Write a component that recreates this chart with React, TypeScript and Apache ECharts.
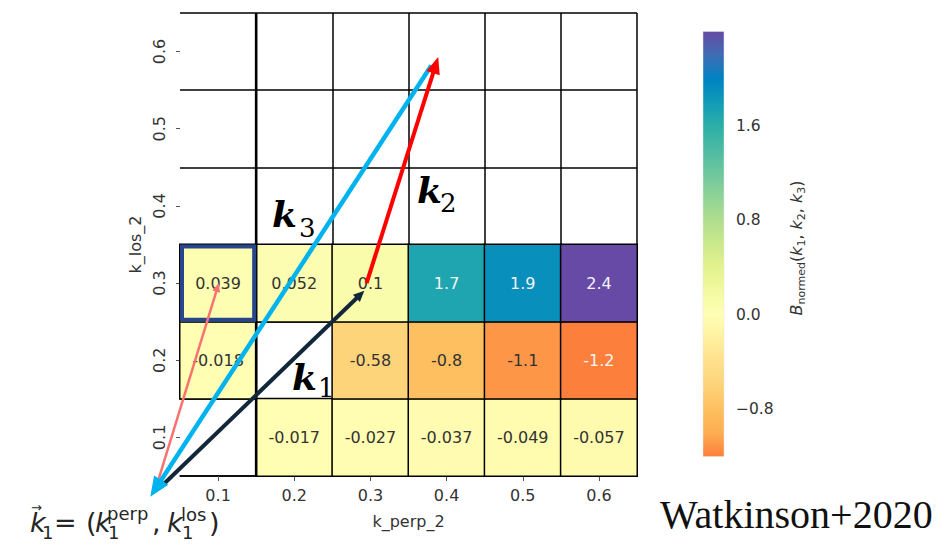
import React, { useEffect, useRef } from 'react';
import * as echarts from 'echarts';

// ---------- data ----------
const kPerpCategories = ['0.1', '0.2', '0.3', '0.4', '0.5', '0.6'];
const kLosCategories = ['0.1', '0.2', '0.3', '0.4', '0.5', '0.6'];

// B_normed values per k_los row (index = k_perp column); null = empty cell
const rowLos01 = [null, -0.017, -0.027, -0.037, -0.049, -0.057];
const rowLos02 = [-0.018, null, -0.58, -0.8, -1.1, -1.2];
const rowLos03 = [0.039, 0.052, 0.1, 1.7, 1.9, 2.4];
const valueRows = [rowLos01, rowLos02, rowLos03];

const colorMin = -1.2;
const colorMax = 2.4;
const colorbarTicks = [-0.8, 0, 0.8, 1.6];
// evenly spaced from colorMin to colorMax (step 0.2)
const colorStops = [
  '#fd7f3c', '#fdae52', '#fdbf5f', '#fed379', '#fee08a', '#fff09e', '#ffffb5',
  '#f3f9a0', '#e3f28e', '#cbe98c', '#b0de8e', '#8fd396', '#6dc79e', '#4cbba3',
  '#2caea8', '#119bb7', '#0083c2', '#3e6db4', '#664aa6',
];

// arrows in (k_perp, k_los) coordinates
const arrowStart = [[0.017, 0.030], [0.025, 0.036], [0.380, 0.582], [0.295, 0.300]];
const arrowEnd = [[0.101, 0.300], [0.292, 0.290], [0.011, 0.023], [0.389, 0.593]];
const arrowColors = ['#f87272', '#13273a', '#00b3ef', '#ff0000'];
const arrowWidths = [2.5, 4, 4.5, 4];
const arrowHeadLen = [9, 11, 20, 17];
const arrowHeadWid = [8, 10, 17, 14];

// k labels (left / baseline of "k")
const kLabelSubs = ['3', '2', '1'];
const kLabelAnchors = [[0.1709, 0.3727], [0.3612, 0.4038], [0.1971, 0.1615]];
const kLabelSubOffsets = [[27, 10], [23, 9], [26, 7]];

// highlighted cell (k_perp index, k_los index)
const highlightCell = [0, 2];
const heavyBoundary = 0.15;

const FONT = '"DejaVu Sans", sans-serif';
const TXT = '#333';

export default function App() {
  const ref = useRef<HTMLDivElement>(null);

  useEffect(() => {
    if (!ref.current) return;
    const chart = echarts.init(ref.current, null, { renderer: 'svg' });

    const heatData: any[] = [];
    valueRows.forEach((row, yi) => {
      row.forEach((v, xi) => {
        if (v === null) return;
        const white = v >= 1.2 || v <= -1.15;
        heatData.push({ value: [xi, yi, v], label: { color: white ? '#f4f4f4' : TXT } });
      });
    });

    const sub = (t: string, x: number, y: number, size: number, italic = false) => ({
      type: 'text',
      x,
      y,
      style: {
        text: t,
        font: `${italic ? 'italic ' : ''}${size}px "DejaVu Sans"`,
        fill: '#262626',
        verticalAlign: 'middle',
        textAlign: 'left',
      },
    });

    const option: any = {
      animation: false,
      backgroundColor: '#fff',
      grid: [
        { left: 180, top: 13, width: 457, height: 463, containLabel: false },
        { left: 703, top: 31.5, width: 21, height: 425, containLabel: false },
      ],
      xAxis: [
        {
          type: 'category', gridIndex: 0, data: kPerpCategories, position: 'bottom',
          name: 'k_perp_2', nameLocation: 'middle', nameGap: 37,
          nameTextStyle: { fontSize: 16, color: TXT, fontFamily: FONT },
          axisLine: { show: true, lineStyle: { color: '#000', width: 1.5 } },
          axisTick: { show: true, alignWithLabel: true, length: 5, lineStyle: { color: '#555' } },
          axisLabel: { fontSize: 16, color: TXT, margin: 11, fontFamily: FONT },
          splitLine: { show: true, showMinLine: false, lineStyle: { color: '#000', width: 1.5 } },
        },
        { type: 'value', gridIndex: 0, min: 0.05, max: 0.65, show: false, position: 'top' },
        { type: 'value', gridIndex: 1, min: 0, max: 1, show: false },
      ],
      yAxis: [
        {
          type: 'category', gridIndex: 0, data: kLosCategories,
          name: 'k_los_2', nameLocation: 'middle', nameGap: 37, nameRotate: 90,
          nameTextStyle: { fontSize: 16, color: TXT, fontFamily: FONT },
          axisLine: { show: false },
          axisTick: { show: true, alignWithLabel: true, length: 4, lineStyle: { color: '#555' } },
          axisLabel: { fontSize: 16, color: TXT, margin: 13, rotate: 90, fontFamily: FONT },
          splitLine: { show: true, lineStyle: { color: '#000', width: 1.5 } },
        },
        { type: 'value', gridIndex: 0, min: 0.05, max: 0.65, show: false, position: 'right' },
        {
          type: 'value', gridIndex: 1, min: colorMin, max: colorMax, position: 'right',
          axisLine: { show: false },
          axisTick: { show: true, customValues: colorbarTicks, length: 5, lineStyle: { color: '#444' } },
          axisLabel: {
            show: true, customValues: colorbarTicks, fontSize: 15.5, color: TXT, margin: 12, fontFamily: FONT,
            formatter: (v: number) => (v < 0 ? '\u2212' + Math.abs(v).toFixed(1) : v.toFixed(1)),
          },
          splitLine: { show: false },
        },
      ],
      visualMap: {
        type: 'continuous', show: false, min: colorMin, max: colorMax,
        dimension: 2, seriesIndex: 0, inRange: { color: colorStops },
      },
      series: [
        {
          type: 'heatmap', xAxisIndex: 0, yAxisIndex: 0, data: heatData,
          itemStyle: { borderColor: '#000', borderWidth: 1.5 },
          label: {
            show: true, fontSize: 16, fontFamily: FONT,
            formatter: (p: any) => String(p.value[2]),
          },
          emphasis: { disabled: true },
        },
        {
          // heavy boundary + highlight box
          type: 'custom', xAxisIndex: 1, yAxisIndex: 1, z: 4, silent: true,
          data: [[highlightCell[0], highlightCell[1]]],
          renderItem: (params: any, api: any) => {
            const cx = 0.05 + 0.1 * api.value(0);
            const cy = 0.05 + 0.1 * api.value(1);
            const a = api.coord([cx, cy + 0.1]);
            const b = api.coord([cx + 0.1, cy]);
            const l0 = api.coord([heavyBoundary, 0.05]);
            const l1 = api.coord([heavyBoundary, 0.65]);
            const inset = 2;
            return {
              type: 'group',
              children: [
                { type: 'line', shape: { x1: l0[0], y1: l0[1], x2: l1[0], y2: l1[1] }, style: { stroke: '#000', lineWidth: 2.6 } },
                {
                  type: 'rect',
                  shape: { x: a[0] + inset, y: a[1] + inset, width: b[0] - a[0] - 2 * inset, height: b[1] - a[1] - 2 * inset },
                  style: { fill: 'none', stroke: '#27478a', lineWidth: 4 },
                },
              ],
            };
          },
        },
        {
          // wavevector arrows
          type: 'custom', xAxisIndex: 1, yAxisIndex: 1, z: 5, silent: true, clip: false,
          data: arrowStart.map((s, i) => [s[0], s[1], arrowEnd[i][0], arrowEnd[i][1]]),
          encode: { x: [0, 2], y: [1, 3] },
          renderItem: (params: any, api: any) => {
            const i = params.dataIndex;
            const p0 = api.coord([api.value(0), api.value(1)]);
            const p1 = api.coord([api.value(2), api.value(3)]);
            const dx = p1[0] - p0[0];
            const dy = p1[1] - p0[1];
            const len = Math.hypot(dx, dy);
            const ux = dx / len;
            const uy = dy / len;
            const hl = arrowHeadLen[i];
            const hw = arrowHeadWid[i];
            const bx = p1[0] - ux * hl;
            const by = p1[1] - uy * hl;
            const nx = -uy;
            const ny = ux;
            return {
              type: 'group',
              children: [
                {
                  type: 'line',
                  shape: { x1: p0[0], y1: p0[1], x2: bx + ux * 2, y2: by + uy * 2 },
                  style: { stroke: arrowColors[i], lineWidth: arrowWidths[i] },
                },
                {
                  type: 'polygon',
                  shape: { points: [[p1[0], p1[1]], [bx + (nx * hw) / 2, by + (ny * hw) / 2], [bx - (nx * hw) / 2, by - (ny * hw) / 2]] },
                  style: { fill: arrowColors[i] },
                },
              ],
            };
          },
        },
        {
          // k labels
          type: 'custom', xAxisIndex: 1, yAxisIndex: 1, z: 6, silent: true, clip: false,
          data: kLabelAnchors,
          renderItem: (params: any, api: any) => {
            const i = params.dataIndex;
            const p = api.coord([api.value(0), api.value(1)]);
            const kSize = 36;
            const sSize = 26;
            const off = kLabelSubOffsets[i];
            return {
              type: 'group',
              children: [
                {
                  type: 'text', x: p[0], y: p[1] - 0.35 * kSize,
                  style: { text: 'k', font: `bold italic ${kSize}px "DejaVu Serif"`, fill: '#000', verticalAlign: 'middle' },
                },
                {
                  type: 'text', x: p[0] + off[0], y: p[1] + off[1] - 0.35 * sSize,
                  style: { text: kLabelSubs[i], font: `${sSize}px "DejaVu Serif"`, fill: '#000', verticalAlign: 'middle' },
                },
              ],
            };
          },
        },
        {
          // colorbar
          type: 'custom', xAxisIndex: 2, yAxisIndex: 2, silent: true,
          data: [[0, colorMin, 1, colorMax]],
          encode: { x: [0, 2], y: [1, 3] },
          renderItem: (params: any, api: any) => {
            const a = api.coord([api.value(0), api.value(3)]);
            const b = api.coord([api.value(2), api.value(1)]);
            const n = colorStops.length;
            const stops = colorStops.map((c, k) => ({ offset: 1 - k / (n - 1), color: c })).reverse();
            return {
              type: 'rect',
              shape: { x: a[0], y: a[1], width: b[0] - a[0], height: b[1] - a[1] },
              style: { fill: new echarts.graphic.LinearGradient(0, 0, 0, 1, stops), stroke: '#e4e4e4', lineWidth: 0.5 },
            };
          },
        },
      ],
      graphic: [
        {
          type: 'text', x: 796, y: 248, rotation: Math.PI / 2,
          style: {
            text: '{i|B}{s|normed}{n|(}{i|k}{s|1}{n|, }{i|k}{s|2}{n|, }{i|k}{s|3}{n|)}',
            textAlign: 'center', verticalAlign: 'middle', fill: TXT,
            rich: {
              i: { fontFamily: 'DejaVu Sans', fontStyle: 'italic', fontSize: 16, lineHeight: 21, fill: TXT },
              n: { fontFamily: 'DejaVu Sans', fontSize: 16, lineHeight: 21, fill: TXT },
              s: { fontFamily: 'DejaVu Sans', fontSize: 11, lineHeight: 11, verticalAlign: 'bottom', fill: TXT },
            },
          },
        },
        // k_1 vector formula
        sub('k', 30, 522, 27, true),
        sub('\u2192', 31, 507, 13),
        sub('1', 42, 532, 18),
        sub('=', 54, 522, 27),
        sub('(', 86, 522, 27),
        sub('k', 95, 522, 27, true),
        sub('perp', 107, 513, 18),
        sub('1', 108, 532, 18),
        sub(',', 152, 522, 27),
        sub('k', 167, 522, 27, true),
        sub('los', 181, 514, 18),
        sub('1', 182, 532, 18),
        sub(')', 209, 522, 27),
        {
          type: 'text', x: 660, y: 514,
          style: { text: 'Watkinson+2020', font: '40px "Liberation Serif"', fill: '#111', verticalAlign: 'middle' },
        },
      ],
    };

    chart.setOption(option);
    return () => chart.dispose();
  }, []);

  return (
    <div
      ref={ref}
      style={{ position: 'fixed', left: 0, top: 0, width: 948, height: 548, background: '#fff' }}
    />
  );
}
